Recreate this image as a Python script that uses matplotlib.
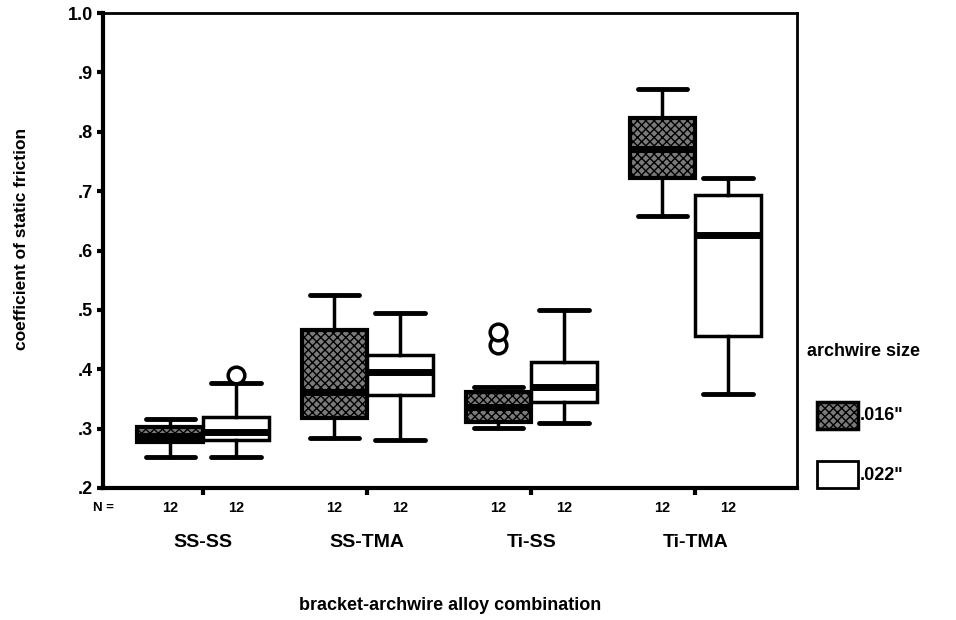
import matplotlib
matplotlib.use("Agg")
import matplotlib.pyplot as plt
from matplotlib.patches import Rectangle
import matplotlib.transforms as mtransforms

plt.rcParams['font.family'] = ['Liberation Sans', 'DejaVu Sans']
plt.rcParams['font.weight'] = 'bold'

# data
groups = ['SS-SS', 'SS-TMA', 'Ti-SS', 'Ti-TMA']
sizes = ['.016"', '.022"']
n_counts = [[12, 12], [12, 12], [12, 12], [12, 12]]

# .016" wire
low_016 = [0.253, 0.285, 0.301, 0.658]
q1_016 = [0.278, 0.318, 0.311, 0.722]
med_016 = [0.287, 0.362, 0.337, 0.771]
q3_016 = [0.303, 0.466, 0.362, 0.823]
high_016 = [0.317, 0.525, 0.370, 0.872]
fliers_016 = [[], [], [0.441, 0.463], []]

# .022" wire
low_022 = [0.253, 0.281, 0.310, 0.359]
q1_022 = [0.281, 0.357, 0.345, 0.456]
med_022 = [0.295, 0.396, 0.370, 0.626]
q3_022 = [0.320, 0.424, 0.412, 0.694]
high_022 = [0.377, 0.495, 0.500, 0.722]
fliers_022 = [[0.390], [], [], []]


def make_stats(low, q1, med, q3, high, fliers):
    return [dict(whislo=a, q1=b, med=c, q3=d, whishi=e, fliers=f)
            for a, b, c, d, e, f in zip(low, q1, med, q3, high, fliers)]


fig = plt.figure(figsize=(9.56, 6.2), dpi=100)
ax = fig.add_axes([103/956, 1-488/620, (797-103)/956, (488-13)/620])

centers = list(range(1, len(groups) + 1))
off = 0.2
w = 0.4
dark = '#7a7a7a'

common = dict(widths=w, capwidths=0.3, patch_artist=True, manage_ticks=False,
              whiskerprops=dict(color='black', lw=2.5),
              capprops=dict(color='black', lw=3.5, solid_capstyle='round'),
              medianprops=dict(color='black', lw=5),
              flierprops=dict(marker='o', markersize=12, markerfacecolor='white',
                              markeredgecolor='black', markeredgewidth=2.5))

ax.bxp(make_stats(low_016, q1_016, med_016, q3_016, high_016, fliers_016),
       positions=[c - off for c in centers],
       boxprops=dict(facecolor=dark, edgecolor='black', lw=3, hatch='xxxx'),
       **common)
ax.bxp(make_stats(low_022, q1_022, med_022, q3_022, high_022, fliers_022),
       positions=[c + off for c in centers],
       boxprops=dict(facecolor='white', edgecolor='black', lw=2.5),
       **common)

ax.set_xlim(0.39, 4.62)
ax.set_ylim(0.2, 1.0)
ax.set_yticks([0.2, 0.3, 0.4, 0.5, 0.6, 0.7, 0.8, 0.9, 1.0])
ax.set_yticklabels(['.2', '.3', '.4', '.5', '.6', '.7', '.8', '.9', '1.0'])
ax.set_xticks(centers)
ax.set_xticklabels(groups)
ax.tick_params(axis='y', length=4, width=3, direction='out', labelsize=13, pad=3)
ax.tick_params(axis='x', length=5, width=3, direction='out', labelsize=14, pad=28)

for side in ['left', 'bottom']:
    ax.spines[side].set_linewidth(3)
for side in ['top', 'right']:
    ax.spines[side].set_linewidth(2)

ax.set_ylabel('coefficient of static friction', fontsize=12.5, fontweight='bold')
ax.yaxis.set_label_coords(-0.106, 0.525)
ax.set_xlabel('bracket-archwire alloy combination', fontsize=13, fontweight='bold')
ax.xaxis.set_label_coords(0.5, -0.230)

# N row
trans = mtransforms.blended_transform_factory(ax.transData, ax.transAxes)
for c, (n1, n2) in zip(centers, n_counts):
    ax.text(c - off, -0.042, str(n1), transform=trans, ha='center', va='center', fontsize=10.5)
    ax.text(c + off, -0.042, str(n2), transform=trans, ha='center', va='center', fontsize=10.5)
ax.text(0.0, -0.042, 'N =', transform=ax.transAxes, ha='center', va='center', fontsize=9.5)

# legend drawn by hand, in figure pixels
px = mtransforms.Affine2D().scale(1/956, -1/620).translate(0, 1) + fig.transFigure
fig.text(807/956, 1-352/620, 'archwire size', fontsize=13, fontweight='bold',
         ha='left', va='center')
fills = [dict(facecolor=dark, edgecolor='black', lw=2.5, hatch='xxxx'),
         dict(facecolor='white', edgecolor='black', lw=2)]
tops = [402, 461]
for lab, st, top in zip(sizes, fills, tops):
    fig.add_artist(Rectangle((817, top + 27), 41, -27, transform=px, **st))
    fig.text(860/956, 1-(top + 14)/620, lab, fontsize=13, fontweight='bold',
             ha='left', va='center')

fig.savefig('out.png', dpi=100)
